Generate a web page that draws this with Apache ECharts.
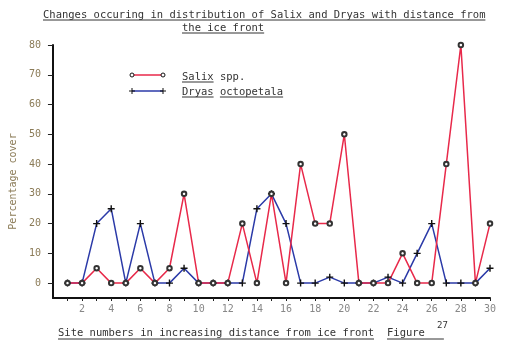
<!DOCTYPE html>
<html>
<head>
<meta charset="utf-8">
<script src="https://cdn.jsdelivr.net/npm/echarts@6/dist/echarts.min.js"></script>
<style>
html, body { margin: 0; padding: 0; background: #fff; }
#main { width: 514px; height: 355px; }
</style>
</head>
<body>
<div id="main"></div>
<script>
// site numbers along the x axis
var sites = [1, 2, 3, 4, 5, 6, 7, 8, 9, 10, 11, 12, 13, 14, 15,
             16, 17, 18, 19, 20, 21, 22, 23, 24, 25, 26, 27, 28, 29, 30];
// percentage cover
var salix = [0, 0, 5, 0, 0, 5, 0, 5, 30, 0, 0, 0, 20, 0, 30,
             0, 40, 20, 20, 50, 0, 0, 0, 10, 0, 0, 40, 80, 0, 20];
var dryas = [0, 0, 20, 25, 0, 20, 0, 0, 5, 0, 0, 0, 0, 25, 30,
             20, 0, 0, 2, 0, 0, 0, 2, 0, 10, 20, 0, 0, 0, 5];
var seriesNames = ['Salix spp.', 'Dryas octopetala'];
var yTicks = [0, 10, 20, 30, 40, 50, 60, 70, 80];
var xLabels = [2, 4, 6, 8, 10, 12, 14, 16, 18, 20, 22, 24, 26, 28, 30];

var mono = '"DejaVu Sans Mono", "Liberation Mono", monospace';
var cw = 6.32; // char width of mono at 10.5px
var ink = '#333';
var plus = 'path://M4,0h2v4h4v2h-4v4h-2v-4h-4v-2h4z';

function pairs(vals) {
    return sites.map(function (s, i) { return [s, vals[i]]; });
}

// text + underline helpers
function txt(x, y, s, size, color) {
    return { type: 'text', x: x, y: y, style: { text: s, font: size + 'px ' + mono, fill: color || ink, textVerticalAlign: 'middle' } };
}
function seg(x1, y1, x2, y2, color, w) {
    return { type: 'line', shape: { x1: x1, y1: y1, x2: x2, y2: y2 }, style: { stroke: color || ink, lineWidth: w || 1 } };
}
function uline(x, y, n) {
    return seg(x, y, x + n * cw, y);
}

var title1 = 'Changes occuring in distribution of Salix and Dryas with distance from';
var title2 = 'the ice front';
var xTitle = 'Site numbers in increasing distance from ice front';

var myChart = echarts.init(document.getElementById('main'));
myChart.setOption({
    animation: false,
    grid: { left: 41, right: 24, top: 45, bottom: 57 },
    xAxis: {
        type: 'value',
        min: 0,
        max: 30,
        axisLine: { show: true, onZero: false, lineStyle: { color: '#111', width: 2 } },
        axisTick: { show: true, customValues: sites, length: 3, lineStyle: { color: '#222' } },
        axisLabel: { customValues: xLabels, color: '#888', fontFamily: mono, fontSize: 10, margin: 6 },
        splitLine: { show: false }
    },
    yAxis: {
        type: 'value',
        min: -5,
        max: 80,
        name: 'Percentage cover',
        nameLocation: 'middle',
        nameRotate: 90,
        nameGap: 27,
        nameTextStyle: { color: '#8b7b57', fontFamily: mono, fontSize: 10, padding: [0, 20, 0, 0] },
        axisLine: { show: true, lineStyle: { color: '#111', width: 2 } },
        axisTick: { show: true, customValues: yTicks, length: 5, lineStyle: { color: '#222' } },
        axisLabel: { customValues: yTicks, color: '#8b7b57', fontFamily: mono, fontSize: 10, margin: 12 },
        splitLine: { show: false }
    },
    series: [{
        name: seriesNames[1],
        type: 'line',
        data: pairs(dryas),
        symbol: plus,
        symbolSize: 7,
        itemStyle: { color: '#111' },
        lineStyle: { color: '#2b3aa8', width: 1.5 }
    }, {
        name: seriesNames[0],
        type: 'line',
        data: pairs(salix),
        symbol: 'emptyCircle',
        symbolSize: 4.5,
        itemStyle: { color: '#333', borderWidth: 1 },
        lineStyle: { color: '#e8294a', width: 1.5 }
    }],
    graphic: [
        txt(43, 15, title1, 10.5),
        uline(43, 20, title1.length),
        txt(182, 28, title2, 10.5),
        uline(182, 33, title2.length),
        // legend
        seg(132, 75, 163, 75, '#e8294a', 1.5),
        { type: 'circle', shape: { cx: 132, cy: 75, r: 2 }, style: { fill: '#fff', stroke: '#111' } },
        { type: 'circle', shape: { cx: 163, cy: 75, r: 2 }, style: { fill: '#fff', stroke: '#111' } },
        txt(182, 77, seriesNames[0], 10.5),
        uline(182, 82, 5),
        seg(132, 91, 163, 91, '#2b3aa8', 1.5),
        seg(129, 91, 135, 91, '#111', 1),
        seg(132, 88, 132, 94, '#111', 1),
        seg(160, 91, 166, 91, '#111', 1),
        seg(163, 88, 163, 94, '#111', 1),
        txt(182, 92, seriesNames[1], 10.5),
        uline(182, 97, 5),
        uline(182 + 6 * cw, 97, 10),
        // x axis title
        txt(58, 333, xTitle, 10.5),
        uline(58, 339, xTitle.length),
        txt(387, 333, 'Figure', 10.5),
        txt(437, 326, '27', 9),
        uline(387, 339, 9)
    ]
});
</script>
</body>
</html>
